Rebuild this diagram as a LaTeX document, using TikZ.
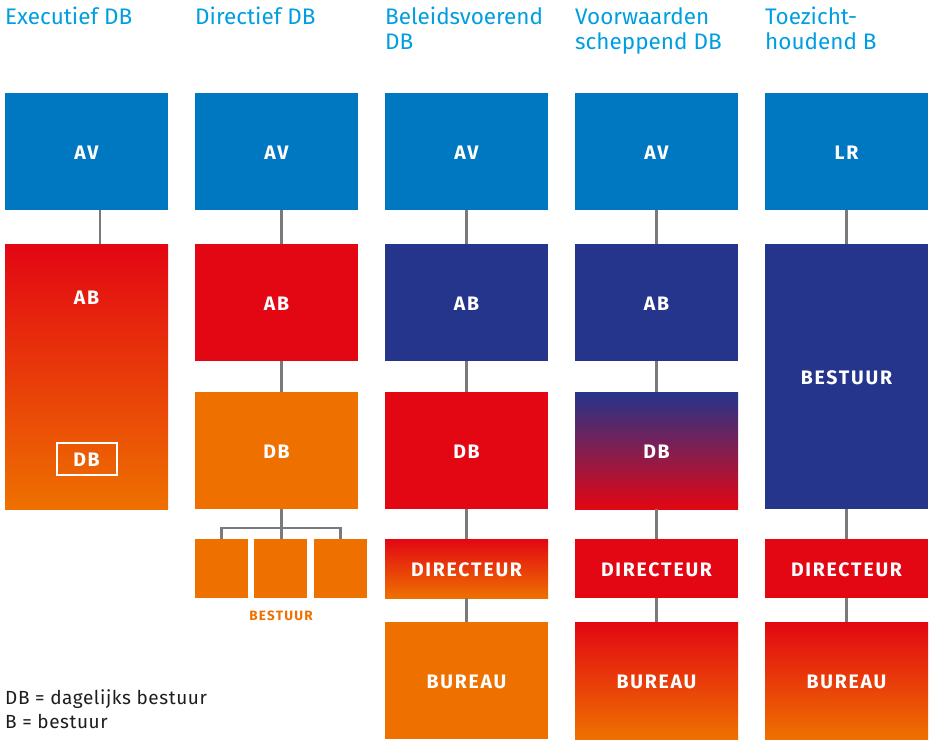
\documentclass[tikz,border=0pt]{standalone}
\usepackage{fontspec}
\setmainfont{Fira Sans}
\definecolor{avblue}{RGB}{0,120,193}
\definecolor{titleblue}{RGB}{0,158,224}
\definecolor{abnavy}{RGB}{36,53,139}
\definecolor{dbred}{RGB}{227,6,19}
\definecolor{dborange}{RGB}{238,113,0}
\definecolor{linegray}{RGB}{122,122,122}
\definecolor{legendtext}{RGB}{29,29,27}
\tikzset{
  box/.style={rectangle, inner sep=0pt, minimum width=163pt, text=white,
    text height=16.5pt, text depth=0pt,
    font=\bfseries\fontsize{19.5}{21}\selectfont\addfontfeature{LetterSpace=9}},
  tall/.style={minimum height=117pt},
  short/.style={minimum height=59pt},
  conn/.style={draw=linegray, line width=2.4pt},
  title/.style={anchor=north west, inner sep=0pt, align=left, text=titleblue,
    font=\fontsize{22.5}{25}\selectfont},
}
\begin{document}
\begin{tikzpicture}[x=1pt,y=-1pt]
\useasboundingbox (0,0) rectangle (929,740);

% column titles
\node[title] (t1) at (5,7) {Executief DB};
\node[title] (t2) at (195,7) {Directief DB};
\node[title] (t3) at (385,7) {Beleidsvoerend\\DB};
\node[title] (t4) at (575,7) {Voorwaarden\\scheppend DB};
\node[title] (t5) at (765,7) {Toezicht-\\houdend B};

% top row
\foreach \i/\t in {1/AV,2/AV,3/AV,4/AV,5/LR}
  \node[box,tall,fill=avblue] (av\i) at ({86.5+(\i-1)*190},151.5) {\t};

% Executief DB
\node[box,minimum height=265pt,top color=dbred,bottom color=dborange] (ab1) at (86.5,376.5) {};
\node[box] (ab1t) at (86.5,296) {AB};
\node[box,draw=white,line width=2pt,minimum width=60pt,minimum height=32pt,
  text height=14pt] (db1) at (86.5,459) {DB};
\draw[conn] ([xshift=13.5pt]av1.south) -- ([xshift=13.5pt]ab1.north);

% Directief DB
\node[box,tall,fill=dbred] (ab2) at (276.5,302.5) {AB};
\node[box,tall,fill=dborange] (db2) at (276.5,450.5) {DB};
\foreach \i/\x in {1/221.5,2/280.5,3/340.5}
  \node[box,short,minimum width=53pt,fill=dborange] (bs\i) at (\x,568.5) {};
\node[font=\bfseries\fontsize{13.5}{15}\selectfont\addfontfeature{LetterSpace=9},
  text=dborange] (bsl) at (281,616) {BESTUUR};
\coordinate (fork) at (281.5,528);
\draw[conn] ([xshift=5pt]av2.south) -- ([xshift=5pt]ab2.north);
\draw[conn] ([xshift=5pt]ab2.south) -- ([xshift=5pt]db2.north);
\draw[conn] (fork |- db2.south) -- (fork) -- (fork |- bs2.north);
\draw[conn] (bs1.north) |- (fork) -| (bs3.north);

% Beleidsvoerend DB
\node[box,tall,fill=abnavy] (ab3) at (466.5,302.5) {AB};
\node[box,tall,fill=dbred] (db3) at (466.5,450.5) {DB};
\node[box,short,top color=dbred,bottom color=dborange] (dir3) at (466.5,568.5) {DIRECTEUR};
\node[box,tall,fill=dborange] (bur3) at (466.5,680.5) {BUREAU};
\draw[conn] (av3) -- (ab3) -- (db3) -- (dir3) -- (bur3);

% Voorwaardenscheppend DB
\node[box,tall,fill=abnavy] (ab4) at (656.5,302.5) {AB};
\node[box,tall,top color=abnavy,bottom color=dbred] (db4) at (656.5,450.5) {DB};
\node[box,short,fill=dbred] (dir4) at (656.5,568.5) {DIRECTEUR};
\node[box,tall,top color=dbred,bottom color=dborange] (bur4) at (656.5,680.5) {BUREAU};
\draw[conn] (av4) -- (ab4) -- (db4) -- (dir4) -- (bur4);

% Toezichthoudend B
\node[box,minimum height=265pt,fill=abnavy] (bst5) at (846.5,376.5) {BESTUUR};
\node[box,short,fill=dbred] (dir5) at (846.5,568.5) {DIRECTEUR};
\node[box,tall,top color=dbred,bottom color=dborange] (bur5) at (846.5,680.5) {BUREAU};
\draw[conn] (av5) -- (bst5) -- (dir5) -- (bur5);

% legend
\node[anchor=north west,inner sep=0pt,align=left,text=legendtext,
  font=\fontsize{19}{24}\selectfont\addfontfeature{LetterSpace=3}] (legend) at (5,689) {DB = dagelijks bestuur\\B = bestuur};
\end{tikzpicture}
\end{document}
